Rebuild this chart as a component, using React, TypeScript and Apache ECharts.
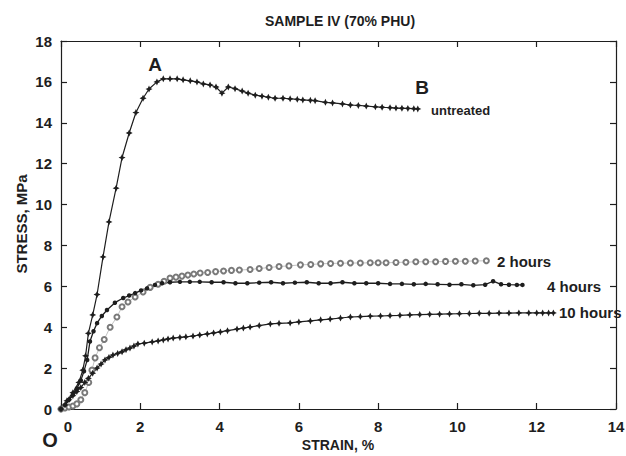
import React, { useEffect, useRef } from "react";
import * as echarts from "echarts";

// ---------- data (strain %, stress MPa) ----------
const untreatedX = [0, 0.15, 0.3, 0.45, 0.55, 0.62, 0.69, 0.8, 0.91, 1.06, 1.21, 1.39, 1.54, 1.72, 1.89, 2.07, 2.22, 2.42, 2.58, 2.75, 2.93, 3.08, 3.26, 3.43, 3.59, 3.76, 3.91, 4.06, 4.22, 4.39, 4.57, 4.72, 4.9, 5.07, 5.23, 5.4, 5.6, 5.78, 5.96, 6.1, 6.29, 6.41, 6.67, 6.85, 7.1, 7.3, 7.5, 7.7, 7.93, 8.1, 8.3, 8.45, 8.6, 8.75, 8.9, 9.0];
const untreatedY = [0, 0.4, 0.8, 1.3, 1.9, 2.6, 3.7, 4.6, 5.6, 7.44, 9.15, 10.8, 12.3, 13.5, 14.5, 15.2, 15.65, 16.0, 16.15, 16.15, 16.15, 16.1, 16.05, 16.0, 15.9, 15.85, 15.75, 15.45, 15.75, 15.67, 15.55, 15.45, 15.35, 15.3, 15.25, 15.2, 15.2, 15.17, 15.15, 15.12, 15.1, 15.08, 15.0, 14.97, 14.92, 14.87, 14.85, 14.82, 14.78, 14.76, 14.74, 14.72, 14.71, 14.7, 14.69, 14.68];

const twoHoursX = [0, 0.1, 0.2, 0.3, 0.4, 0.5, 0.6, 0.7, 0.78, 0.86, 0.97, 1.09, 1.24, 1.41, 1.54, 1.69, 1.87, 2.07, 2.25, 2.45, 2.6, 2.75, 2.9, 3.05, 3.2, 3.35, 3.51, 3.7, 3.9, 4.1, 4.3, 4.5, 4.77, 5.0, 5.25, 5.5, 5.75, 6.04, 6.3, 6.55, 6.8, 7.05, 7.3, 7.55, 7.8, 8.0, 8.2, 8.45, 8.7, 8.95, 9.2, 9.45, 9.7, 9.95, 10.2, 10.45, 10.73];
const twoHoursY = [0, 0.05, 0.1, 0.15, 0.25, 0.45, 0.8, 1.3, 1.9, 2.5, 3.0, 3.4, 4.0, 4.5, 5.0, 5.23, 5.48, 5.72, 5.95, 6.1, 6.25, 6.4, 6.45, 6.5, 6.55, 6.6, 6.65, 6.68, 6.72, 6.75, 6.78, 6.8, 6.82, 6.87, 6.92, 6.97, 7.0, 7.05, 7.07, 7.1, 7.12, 7.13, 7.14, 7.14, 7.15, 7.15, 7.15, 7.17, 7.18, 7.2, 7.2, 7.2, 7.22, 7.23, 7.23, 7.24, 7.25];

const fourHoursX = [0, 0.1, 0.2, 0.3, 0.4, 0.5, 0.58, 0.66, 0.73, 0.82, 0.91, 1.03, 1.16, 1.36, 1.57, 1.72, 1.87, 2.02, 2.17, 2.37, 2.55, 2.75, 3.0, 3.25, 3.5, 3.8, 4.1, 4.4, 4.7, 5.0, 5.3, 5.6, 5.9, 6.2, 6.5, 6.8, 7.1, 7.4, 7.7, 8.0, 8.3, 8.6, 8.9, 9.2, 9.5, 9.8, 10.1, 10.4, 10.7, 10.9, 11.1, 11.3, 11.5, 11.64];
const fourHoursY = [0, 0.2, 0.45, 0.7, 1.0, 1.4, 1.85, 2.4, 3.3, 3.8, 4.2, 4.55, 4.84, 5.2, 5.43, 5.55, 5.67, 5.8, 5.9, 6.07, 6.15, 6.2, 6.22, 6.22, 6.22, 6.2, 6.2, 6.15, 6.15, 6.18, 6.2, 6.15, 6.18, 6.2, 6.15, 6.15, 6.2, 6.15, 6.15, 6.15, 6.12, 6.12, 6.1, 6.12, 6.1, 6.08, 6.1, 6.05, 6.08, 6.25, 6.1, 6.08, 6.07, 6.07];

const tenHoursX = [0, 0.1, 0.2, 0.3, 0.4, 0.5, 0.6, 0.69, 0.8, 0.91, 1.01, 1.11, 1.21, 1.31, 1.43, 1.54, 1.64, 1.74, 1.84, 1.94, 2.1, 2.3, 2.45, 2.58, 2.7, 2.83, 3.0, 3.15, 3.33, 3.5, 3.69, 3.85, 4.02, 4.2, 4.44, 4.6, 4.77, 5.0, 5.28, 5.5, 5.78, 6.0, 6.29, 6.55, 6.79, 7.05, 7.3, 7.55, 7.8, 8.06, 8.3, 8.55, 8.8, 9.05, 9.3, 9.55, 9.8, 10.05, 10.3, 10.55, 10.8, 11.05, 11.3, 11.55, 11.8, 12.0, 12.15, 12.3, 12.42];
const tenHoursY = [0, 0.2, 0.45, 0.65, 0.85, 1.05, 1.3, 1.5, 1.75, 2.0, 2.2, 2.4, 2.52, 2.64, 2.72, 2.8, 2.9, 2.98, 3.08, 3.18, 3.22, 3.28, 3.33, 3.38, 3.43, 3.47, 3.5, 3.53, 3.57, 3.62, 3.67, 3.72, 3.77, 3.83, 3.91, 3.96, 4.01, 4.08, 4.16, 4.19, 4.21, 4.26, 4.31, 4.36, 4.4, 4.45, 4.5, 4.52, 4.54, 4.55, 4.57, 4.58, 4.6, 4.62, 4.63, 4.64, 4.65, 4.66, 4.67, 4.68, 4.68, 4.69, 4.69, 4.7, 4.7, 4.7, 4.7, 4.7, 4.7];

const xRange = [0, 14];
const yRange = [0, 18];
const tickStep = 2;

const titleText = "SAMPLE IV (70% PHU)";
const xName = "STRAIN, %";
const yName = "STRESS, MPa";

const pairs = (xs: number[], ys: number[]) => xs.map((x, i) => [x, ys[i]]);

const FONT = "'Liberation Sans', Arial, Helvetica, sans-serif";
const INK = "#1e1e1e";
const STAR = "path://M0,-4L1.3,-1.3L4,0L1.3,1.3L0,4L-1.3,1.3L-4,0L-1.3,-1.3Z";

export default function App() {
  const ref = useRef<HTMLDivElement>(null);

  useEffect(() => {
    document.body.style.margin = "0";
    const chart = echarts.init(ref.current!, null, { renderer: "svg" });

    const axisCommon = {
      type: "value" as const,
      interval: tickStep,
      splitLine: { show: false },
      axisLine: { show: true, onZero: false, lineStyle: { color: INK, width: 1.2 } },
      axisTick: { show: true, inside: true, length: 6, lineStyle: { color: INK, width: 1.2 } },
    };
    const labelCommon = {
      color: INK,
      fontFamily: FONT,
      fontWeight: "bold" as const,
      fontSize: 15,
      showMinLabel: true,
      showMaxLabel: true,
    };

    const text = (
      t: string,
      x: number,
      y: number,
      size: number,
      align = "center",
      extra: any = {}
    ) => ({
      type: "text",
      x,
      y,
      z: 10,
      ...extra,
      style: {
        text: t,
        fill: INK,
        font: `bold ${size}px ${FONT}`,
        textAlign: align,
        textVerticalAlign: "middle",
      },
    });

    chart.setOption({
      animation: false,
      backgroundColor: "#ffffff",
      grid: { left: 61, top: 41, right: 10, bottom: 47, outerBoundsMode: "none", containLabel: false },
      xAxis: [
        {
          ...axisCommon,
          min: xRange[0],
          max: xRange[1],
          position: "bottom",
          axisLabel: {
            ...labelCommon,
            margin: 10,
            formatter: (v: number) => (v === 0 ? "{z|0}" : String(v)),
            rich: {
              z: { fontFamily: FONT, fontWeight: "bold", fontSize: 15, color: INK, padding: [0, 0, 0, 14] },
            },
          },
        },
        {
          ...axisCommon,
          show: true,
          min: xRange[0],
          max: xRange[1],
          position: "top",
          axisLabel: { show: false },
        },
      ],
      yAxis: [
        {
          ...axisCommon,
          min: yRange[0],
          max: yRange[1],
          position: "left",
          axisLabel: { ...labelCommon, margin: 9 },
        },
        {
          ...axisCommon,
          show: true,
          min: yRange[0],
          max: yRange[1],
          position: "right",
          axisLabel: { show: false },
        },
      ],
      series: [
        {
          name: "untreated",
          type: "line",
          data: pairs(untreatedX, untreatedY),
          symbol: STAR,
          symbolSize: 7,
          showAllSymbol: true,
          lineStyle: { color: INK, width: 1.2 },
          itemStyle: { color: INK },
        },
        {
          name: "2 hours",
          type: "line",
          data: pairs(twoHoursX, twoHoursY),
          symbol: "emptyCircle",
          symbolSize: 5,
          showAllSymbol: true,
          lineStyle: { color: "#999", width: 0.6 },
          itemStyle: { color: "#7a7a7a", borderColor: "#7a7a7a", borderWidth: 0.7 },
        },
        {
          name: "4 hours",
          type: "line",
          data: pairs(fourHoursX, fourHoursY),
          symbol: "circle",
          symbolSize: 4.5,
          showAllSymbol: true,
          lineStyle: { color: INK, width: 1.3 },
          itemStyle: { color: INK },
        },
        {
          name: "10 hours",
          type: "line",
          data: pairs(tenHoursX, tenHoursY),
          symbol: STAR,
          symbolSize: 7,
          showAllSymbol: true,
          lineStyle: { color: INK, width: 1.2 },
          itemStyle: { color: INK },
        },
      ],
      graphic: [
        text(titleText, 340, 21, 14),
        text(xName, 338, 445, 14),
        text(yName, 21, 224, 15, "center", { rotation: Math.PI / 2 }),
        text("O", 50, 440, 20),
        text("A", 155, 64, 19),
        text("B", 422, 87, 19),
        text("untreated", 431, 110, 13, "left"),
        text("2 hours", 497, 261, 15, "left"),
        text("4 hours", 547, 286, 15, "left"),
        text("10 hours", 559, 312, 15, "left"),
      ],
    });

    return () => chart.dispose();
  }, []);

  return <div ref={ref} style={{ width: 626, height: 456 }} />;
}
